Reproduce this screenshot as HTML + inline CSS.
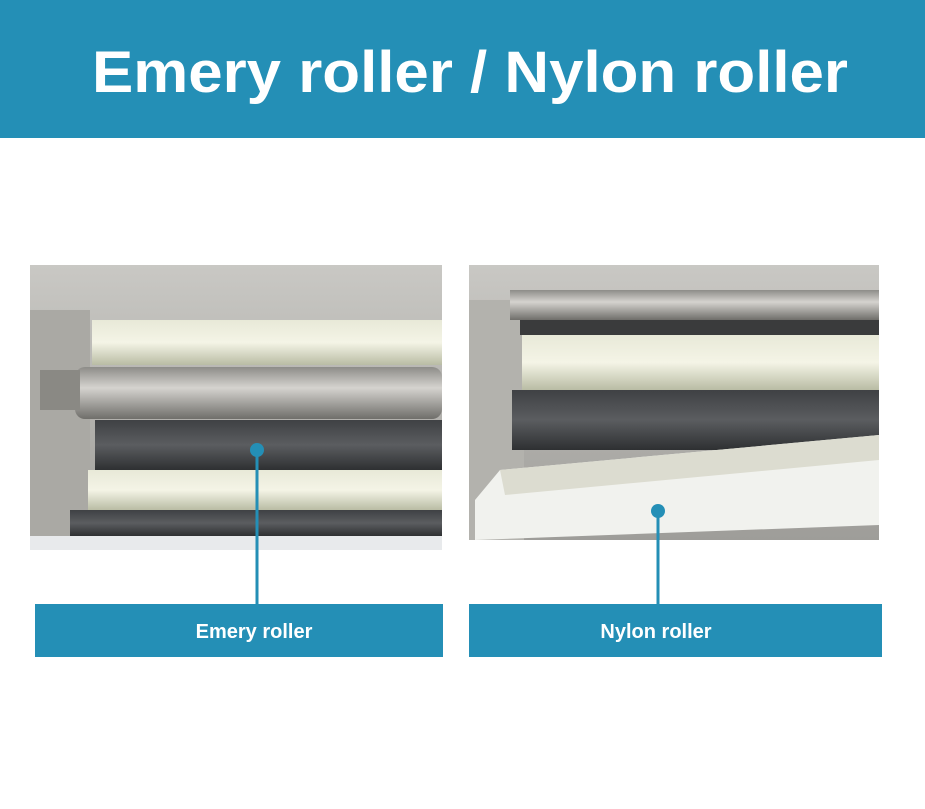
<!DOCTYPE html>
<html><head><style>body{margin:0;background:#fff}svg{display:block}</style></head><body>
<svg width="925" height="809" xmlns="http://www.w3.org/2000/svg" font-family="Liberation Sans, sans-serif">
<defs>
<linearGradient id="metal" x1="0" y1="0" x2="0" y2="1"><stop offset="0" stop-color="#c9c8c4"/><stop offset="1" stop-color="#9e9d99"/></linearGradient>
<linearGradient id="brush" x1="0" y1="0" x2="0" y2="1"><stop offset="0" stop-color="#e8e9d8"/><stop offset=".5" stop-color="#f4f4e6"/><stop offset="1" stop-color="#b9bca4"/></linearGradient>
<linearGradient id="steel" x1="0" y1="0" x2="0" y2="1"><stop offset="0" stop-color="#8d8c88"/><stop offset=".4" stop-color="#d5d3cf"/><stop offset="1" stop-color="#6f6e6a"/></linearGradient>
<linearGradient id="emery" x1="0" y1="0" x2="0" y2="1"><stop offset="0" stop-color="#3f4144"/><stop offset=".5" stop-color="#5b5d60"/><stop offset="1" stop-color="#2e3032"/></linearGradient>
</defs>
<rect x="0" y="0" width="925" height="138" fill="#248fb6"/>
<text x="470" y="92" text-anchor="middle" font-size="58" font-weight="bold" fill="#fff" textLength="756" lengthAdjust="spacingAndGlyphs">Emery roller / Nylon roller</text>

<!-- left photo -->
<rect x="30" y="265" width="412" height="285" fill="url(#metal)"/>
<rect x="30" y="310" width="60" height="230" fill="#aaa9a4"/>
<rect x="92" y="320" width="350" height="45" fill="url(#brush)"/>
<rect x="75" y="367" width="367" height="52" rx="10" fill="url(#steel)"/>
<rect x="40" y="370" width="40" height="40" fill="#8a8984"/>
<rect x="95" y="420" width="347" height="50" fill="url(#emery)"/>
<rect x="88" y="470" width="354" height="40" fill="url(#brush)"/>
<rect x="70" y="510" width="372" height="26" fill="url(#emery)"/>
<rect x="30" y="536" width="412" height="14" fill="#e8eaec"/>

<!-- right photo -->
<rect x="469" y="265" width="410" height="275" fill="url(#metal)"/>
<rect x="469" y="300" width="55" height="240" fill="#b3b2ad"/>
<rect x="510" y="290" width="369" height="30" fill="url(#steel)"/>
<rect x="520" y="320" width="359" height="15" fill="#3a3b3c"/>
<rect x="522" y="335" width="357" height="55" fill="url(#brush)"/>
<rect x="512" y="390" width="367" height="60" fill="url(#emery)"/>
<polygon points="500,470 879,435 879,525 475,540 475,500" fill="#f1f2ee"/>
<polygon points="500,470 879,435 879,460 505,495" fill="#dcdcd0"/>

<!-- connectors -->
<line x1="257" y1="450" x2="257" y2="604" stroke="#248fb6" stroke-width="3"/>
<circle cx="257" cy="450" r="7" fill="#248fb6"/>
<line x1="658" y1="511" x2="658" y2="604" stroke="#248fb6" stroke-width="3"/>
<circle cx="658" cy="511" r="7" fill="#248fb6"/>

<rect x="35" y="604" width="408" height="53" fill="#248fb6"/>
<text x="254" y="638" text-anchor="middle" font-size="20" font-weight="bold" fill="#fff">Emery roller</text>
<rect x="469" y="604" width="413" height="53" fill="#248fb6"/>
<text x="656" y="638" text-anchor="middle" font-size="20" font-weight="bold" fill="#fff">Nylon roller</text>
</svg>
</body></html>
